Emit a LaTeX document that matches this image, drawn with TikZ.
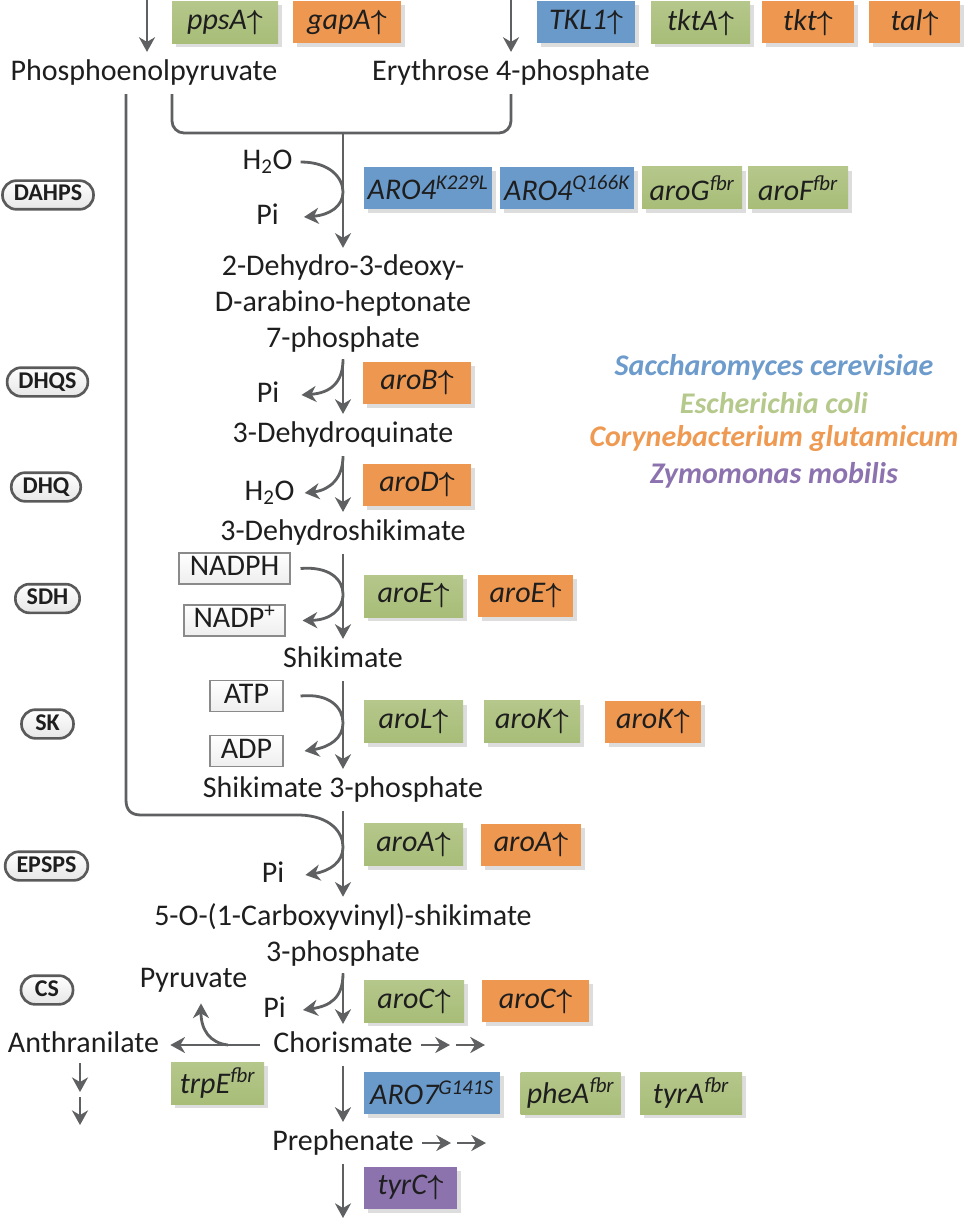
\documentclass[tikz,border=0pt]{standalone}
\usepackage{fontspec}
\setmainfont{Carlito}
\usepackage{xcolor}
\usepackage{tikz}
\usetikzlibrary{calc,arrows.meta,shadows}
\definecolor{txt}{HTML}{1E1E1E}
\definecolor{arr}{HTML}{5F6062}
\definecolor{scbox}{HTML}{6A9ACA}
\definecolor{ectop}{HTML}{B5C78B}
\definecolor{ecbot}{HTML}{A8BD78}
\definecolor{cgbox}{HTML}{ED9750}
\definecolor{zmbox}{HTML}{8C73AE}
\definecolor{sclab}{HTML}{6C9BCC}
\definecolor{eclab}{HTML}{B6C98C}
\definecolor{cglab}{HTML}{EF9A52}
\definecolor{zmlab}{HTML}{8C73AF}
\definecolor{pillline}{HTML}{5A5A5A}
\definecolor{pillfill}{HTML}{E6E6E6}
\definecolor{cofline}{HTML}{8A8A8A}
\definecolor{coffill}{HTML}{EEEEEE}
\definecolor{shade}{HTML}{DDDDDD}
\newcommand{\mainsize}{\fontsize{22.5}{27}\selectfont}
\newcommand{\up}{\/{\boldmath$\uparrow$}}
\tikzset{
  pathln/.style={draw=arr, line width=2.1pt},
  flow/.style={pathln, -{Stealth[length=11pt,width=12pt,inset=3.5pt]}},
  met/.style={text=txt, font=\mainsize, inner xsep=0pt, inner ysep=5pt},
  one/.style={met, text height=16.2pt, text depth=5pt},
  side/.style={one, inner sep=0pt},
  cof/.style={one, draw=cofline, line width=0.8pt, top color=white, bottom color=coffill, inner sep=0pt, minimum height=23.25pt},
  pill/.style={draw=pillline, line width=2pt, rounded corners=10.5pt, top color=white, bottom color=pillfill,
    text=txt, font=\fontsize{18}{20}\selectfont\bfseries, inner xsep=8.5pt, inner ysep=0pt,
    text height=12.8pt, text depth=3.8pt, minimum height=21.5pt, minimum width=39pt},
  gene/.style={text=txt, font=\mainsize\itshape, inner sep=0pt, minimum height=31.5pt,
    drop shadow={shadow xshift=3pt, shadow yshift=-3pt, fill=shade, opacity=1}},
  sc/.style={gene, fill=scbox},
  ec/.style={gene, top color=ectop, bottom color=ecbot},
  cg/.style={gene, fill=cgbox},
  zm/.style={gene, fill=zmbox},
  leg/.style={font=\mainsize\bfseries\itshape}
}

\begin{document}
\begin{tikzpicture}[x=0.75pt, y=-0.75pt]
  \useasboundingbox (0,0) rectangle (965,1219);
  \coordinate (pepin) at (147,0);
  \coordinate (e4pin) at (511,0);
  \coordinate (brl) at (172,0);
  \coordinate (pepl) at (126,0);
  \coordinate (join) at (343,133);
  \coordinate (tyrend) at (343,1218);

  % metabolites
  \node[one] (pep) at (144,73) {Phosphoenolpyruvate};
  \node[one] (e4p) at (511,73) {Erythrose 4-phosphate};
  \node[met, align=center, anchor=base] (dahp) at (343,347.6) {2-Dehydro-3-deoxy-\\D-arabino-heptonate\\7-phosphate};
  \node[one] (dhq) at (343,435) {3-Dehydroquinate};
  \node[one] (dhs) at (343,533) {3-Dehydroshikimate};
  \node[one] (shik) at (343,660) {Shikimate};
  \node[one] (s3p) at (343,790) {Shikimate 3-phosphate};
  \node[met, align=center, anchor=base] (epsp) at (343,961.6) {5-O-(1-Carboxyvinyl)-shikimate\\3-phosphate};
  \node[one] (chor) at (343,1045) {Chorismate};
  \node[one] (preph) at (343,1143) {Prephenate};
  \node[one] (anth) at (83.5,1045) {Anthranilate};
  \node[side] (pyr) at (193.5,980) {Pyruvate};

  % co-substrates
  \node[side] (h2oA) at (267.5,162) {H\textsubscript{2}O};
  \node[side] (piA) at (267.5,217) {Pi};
  \node[side] (piB) at (268,395) {Pi};
  \node[side] (h2oB) at (269.5,493) {H\textsubscript{2}O};
  \node[cof, minimum width=83.25pt] (nadph) at (234.5,568.5) {NADPH};
  \node[cof, minimum width=75.75pt] (nadp) at (234.5,620.5) {NADP\textsuperscript{+}};
  \node[cof, minimum width=54.75pt] (atp) at (246.5,696) {ATP};
  \node[cof, minimum width=54.75pt] (adp) at (246.5,751) {ADP};
  \node[side] (piC) at (273,875) {Pi};
  \node[side] (piD) at (274.5,1010) {Pi};

  % enzymes
  \node[pill] (dahps) at (48,195) {DAHPS};
  \node[pill] (dhqs) at (47.5,382) {DHQS};
  \node[pill] (dhqp) at (46,487) {DHQ};
  \node[pill] (sdh) at (47.5,598.5) {SDH};
  \node[pill] (sk) at (47.5,724) {SK};
  \node[pill] (epsps) at (46.5,866) {EPSPS};
  \node[pill] (cs) at (47,990) {CS};

  % genes
  \node[ec, minimum width=79.5pt] (ppsa) at (225,22.5) {ppsA\up};
  \node[cg, minimum width=81pt] (gapa) at (347,22.5) {gapA\up};
  \node[sc, minimum width=73.5pt] (tkl) at (586,22.5) {TKL1\up};
  \node[ec, minimum width=74.25pt] (tkta) at (700.5,22.5) {tktA\up};
  \node[cg, minimum width=69pt] (tkt) at (808,22.5) {tkt\up};
  \node[cg, minimum width=68.25pt] (tal) at (914.5,22.5) {tal\up};
  \node[sc, minimum width=96pt] (aroK) at (428,188) {ARO4\textsuperscript{K229L}};
  \node[sc, minimum width=100.5pt] (aroQ) at (567,188) {ARO4\textsuperscript{Q166K}};
  \node[ec, minimum width=75pt] (arog) at (692,188) {aroG\textsuperscript{fbr}};
  \node[ec, minimum width=75pt] (arof) at (798,188) {aroF\textsuperscript{fbr}};
  \node[cg, minimum width=81pt] (arob) at (417,382.5) {aroB\up};
  \node[cg, minimum width=81pt] (arod) at (417,485) {aroD\up};
  \node[ec, minimum width=74.25pt] (aroeE) at (413.5,596) {aroE\up};
  \node[cg, minimum width=71.25pt] (aroeC) at (525.5,596) {aroE\up};
  \node[ec, minimum width=74.25pt] (arol) at (413.5,721.5) {aroL\up};
  \node[ec, minimum width=72pt] (arokE) at (532,721.5) {aroK\up};
  \node[cg, minimum width=72pt] (arokC) at (653,721.5) {aroK\up};
  \node[ec, minimum width=74.25pt] (aroaE) at (413.5,844.5) {aroA\up};
  \node[cg, minimum width=75pt] (aroaC) at (531,844.5) {aroA\up};
  \node[ec, minimum width=75pt] (arocE) at (414,1001) {aroC\up};
  \node[cg, minimum width=80.25pt] (arocC) at (535.5,1001) {aroC\up};
  \node[ec, minimum width=69.75pt] (trpe) at (217.5,1083) {trpE\textsuperscript{fbr}};
  \node[sc, minimum width=102pt] (aro7) at (432,1093) {ARO7\textsuperscript{G141S}};
  \node[ec, minimum width=75pt] (phea) at (570.5,1093) {pheA\textsuperscript{fbr}};
  \node[ec, minimum width=76.5pt] (tyra) at (691,1093) {tyrA\textsuperscript{fbr}};
  \node[zm, minimum width=69.75pt] (tyrc) at (410.5,1187.5) {tyrC\up};

  % species key
  \node[leg, text=sclab] at (774,367) {Saccharomyces cerevisiae};
  \node[leg, text=eclab] at (774,403) {Escherichia coli};
  \node[leg, text=cglab] at (774,438) {Corynebacterium glutamicum};
  \node[leg, text=zmlab] at (774,475) {Zymomonas mobilis};

  % main route
  \draw[flow] (pepin) -- (pepin |- pep.north);
  \draw[flow] (e4pin) -- (e4p.north);
  \draw[pathln, rounded corners=9pt] (pep.south -| brl) |- (join) -| (e4p.south);
  \draw[flow] (join) -- (dahp.north);
  \draw[flow] (dahp.south) -- (dhq.north);
  \draw[flow] (dhq.south) -- (dhs.north);
  \draw[flow] (dhs.south) -- (shik.north);
  \draw[flow] (shik.south) -- (s3p.north);
  \draw[flow] (s3p.south) -- (epsp.north);
  \draw[flow] (epsp.south) -- (chor.north);
  \draw[flow] (chor.south) -- (preph.north);
  \draw[flow] (preph.south) -- (tyrend);

  % side reactions
  \draw[flow] ($(h2oA.east)+(8,0)$) .. controls (330,162) and (343,178) .. (343,192)
    .. controls (343,206) and (330,215) .. ($(piA.east)+(25,0)$);
  \draw[flow] (dahp.south) .. controls (343,383) and (330,393) .. ($(piB.east)+(22,0)$);
  \draw[flow] (dhq.south) .. controls (343,478) and (330,490) .. ($(h2oB.east)+(10,0)$);
  \draw[flow] ($(nadph.east)+(10,0)$) .. controls (330,566) and (343,580) .. (343,594)
    .. controls (343,610) and (330,620) .. ($(nadp.east)+(17,0)$);
  \draw[flow] ($(atp.east)+(17,0)$) .. controls (330,693) and (343,708) .. (343,723)
    .. controls (343,738) and (330,747) .. ($(adp.east)+(21,0)$);
  \draw[flow] (pep.south -| pepl) -- (126,800) .. controls (126,810) and (131,815) .. (141,815)
    -- (300,815) .. controls (330,816) and (343,832) .. (343,847)
    .. controls (343,862) and (330,871) .. ($(piC.east)+(21,0)$);
  \draw[flow] (epsp.south) .. controls (343,998) and (330,1006) .. ($(piD.east)+(17,0)$);

  % branches
  \draw[flow] ($(chor.west)+(-13,0)$) -- ($(anth.east)+(11,0)$);
  \draw[flow] ($(chor.west)+(-45,0)$) .. controls (210,1043) and (201,1030) .. ($(pyr.south)+(7.5,9)$);
  \draw[flow] ($(chor.east)+(8,0)$) -- ++(29,0);
  \draw[flow] ($(chor.east)+(43,0)$) -- ++(29,0);
  \draw[flow] ($(preph.east)+(8,0)$) -- ++(29,0);
  \draw[flow] ($(preph.east)+(43,0)$) -- ++(29,0);
  \draw[flow] ($(anth.south)+(-3.5,-3)$) -- ++(0,29);
  \draw[flow] ($(anth.south)+(-3.5,31)$) -- ++(0,28);
\end{tikzpicture}
\end{document}
